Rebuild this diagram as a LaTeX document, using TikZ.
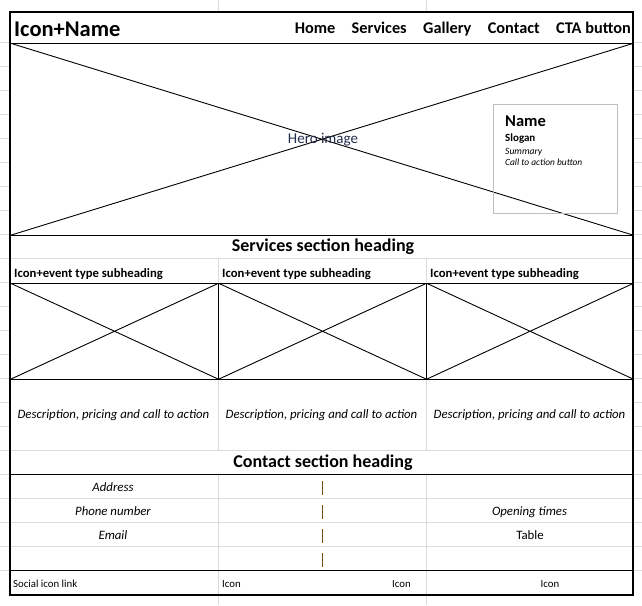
\documentclass[tikz,border=0pt]{standalone}
\usepackage{fontspec}
\setmainfont{Carlito}
\usetikzlibrary{positioning}
\definecolor{gridgray}{RGB}{218,218,218}
\definecolor{cardgray}{RGB}{190,190,190}
\definecolor{barbrown}{RGB}{115,80,20}
\definecolor{heroink}{RGB}{35,45,75}
\tikzset{sheetgrid/.style={draw=gridgray, line width=0.8pt}}
\tikzset{outerframe/.style={draw, line width=2pt}}
\tikzset{blackrule/.style={draw, line width=1.1pt}}
\tikzset{crossed/.style={draw, line width=1.1pt, inner sep=0pt, anchor=north west,
    path picture={\draw[line width=0.9pt] (path picture bounding box.north west) -- (path picture bounding box.south east)
      (path picture bounding box.south west) -- (path picture bounding box.north east);}}}
\tikzset{navitem/.style={inner sep=0pt, font=\fontsize{16.3}{19}\selectfont\bfseries}}
\tikzset{heading/.style={inner sep=0pt, anchor=base, font=\fontsize{18}{21}\selectfont\bfseries}}
\tikzset{subhead/.style={inner sep=0pt, anchor=base west, font=\fontsize{12.7}{15}\selectfont\bfseries}}
\tikzset{note/.style={inner sep=0pt, anchor=base, font=\fontsize{12.8}{15}\selectfont\itshape}}
\tikzset{footnote/.style={inner sep=0pt, font=\fontsize{10.8}{13}\selectfont}}
\tikzset{bar/.style={draw=barbrown, line width=1.7pt}}

\begin{document}
\begin{tikzpicture}[x=1pt, y=-1pt]
    \useasboundingbox (0,0) rectangle (642,605);

    % spreadsheet grid showing around and between the blocks
    \foreach \y in {42.7,66.7,90.7,114.7,138.7,162.7,186.7,210.7,234.7,258.7,282.7,306.7,330.7,354.7,378.7,402.7,426.7,450.7,474.7,498.7,522.7,546.7,570.7}
        \draw[sheetgrid] (0,\y) -- (10,\y) (633,\y) -- (642,\y);
    \foreach \y in {258.7,450.7,498.7,522.7,546.7}
        \draw[sheetgrid] (10,\y) -- (633,\y);
    \foreach \x in {218,426}
        \draw[sheetgrid] (\x,0) -- (\x,12) (\x,258.7) -- (\x,282.7) (\x,378.7) -- (\x,450.7) (\x,474.7) -- (\x,605);

    % header
    \node[inner sep=0pt, anchor=base west, font=\fontsize{22.5}{26}\selectfont\bfseries] (brand) at (14,36) {Icon+Name};
    \node[navitem, anchor=base east] (cta) at (631,33.5) {CTA button};
    \node[navitem, base left=16pt of cta] (contact) {Contact};
    \node[navitem, base left=16pt of contact] (gallery) {Gallery};
    \node[navitem, base left=16pt of gallery] (services) {Services};
    \node[navitem, base left=16pt of services] (home) {Home};

    % hero
    \node[crossed, minimum width=623pt, minimum height=192pt] (hero) at (10,42.7) {};
    \node[inner sep=0pt, anchor=base, text=heroink, font=\fontsize{15}{18}\selectfont] (herolabel) at (323,143) {Hero image};
    \node[draw=cardgray, line width=1pt, inner sep=0pt, anchor=north west, minimum width=123.4pt, minimum height=109pt] (card) at (493.3,104.3) {};
    \node[inner sep=0pt, anchor=base west, font=\fontsize{16.5}{19}\selectfont\bfseries] (cardname) at (505,126) {Name};
    \node[inner sep=0pt, anchor=base west, font=\fontsize{11}{13}\selectfont\bfseries] (slogan) at (505,141.7) {Slogan};
    \node[inner sep=0pt, anchor=base west, font=\fontsize{9.6}{11}\selectfont\itshape] (summary) at (505,154) {Summary};
    \node[inner sep=0pt, anchor=base west, font=\fontsize{9.4}{11}\selectfont\itshape] (cardcta) at (505,165.3) {Call to action button};

    % services
    \node[heading] (serviceshead) at (323,251.7) {Services section heading};
    \foreach \i/\x/\w in {1/10/208,2/218/208,3/426/207} {
        \node[subhead] (sub\i) at (\x+4,277.3) {Icon+event type subheading};
        \node[crossed, minimum width=\w pt, minimum height=96pt] (photo\i) at (\x,282.7) {};
        \node[note] (desc\i) at (\x+103.5,418.5) {Description, pricing and call to action};
    }

    % contact
    \node[heading] (contacthead) at (323,467.5) {Contact section heading};
    \draw[blackrule] (10,474.7) -- (633,474.7);
    \node[note] (address) at (113,491) {Address};
    \node[note] (phone) at (113,515) {Phone number};
    \node[note] (email) at (113,539) {Email};
    \node[note] (opening) at (529.5,515) {Opening times};
    \node[note, font=\fontsize{12.8}{15}\selectfont\upshape] (table) at (530,539) {Table};
    \foreach \y in {481,505,529,553}
        \draw[bar] (322.5,\y) -- (322.5,\y+14);

    % footer
    \draw[blackrule] (10,570.7) -- (633,570.7);
    \node[footnote, anchor=base west] (social) at (13,587) {Social icon link};
    \node[footnote, anchor=base west] (icon1) at (222,587) {Icon};
    \node[footnote, anchor=base east] (icon2) at (411,587) {Icon};
    \node[footnote, anchor=base] (icon3) at (550,587) {Icon};

    \draw[outerframe] (10,12) rectangle (633,594.7);
\end{tikzpicture}
\end{document}
